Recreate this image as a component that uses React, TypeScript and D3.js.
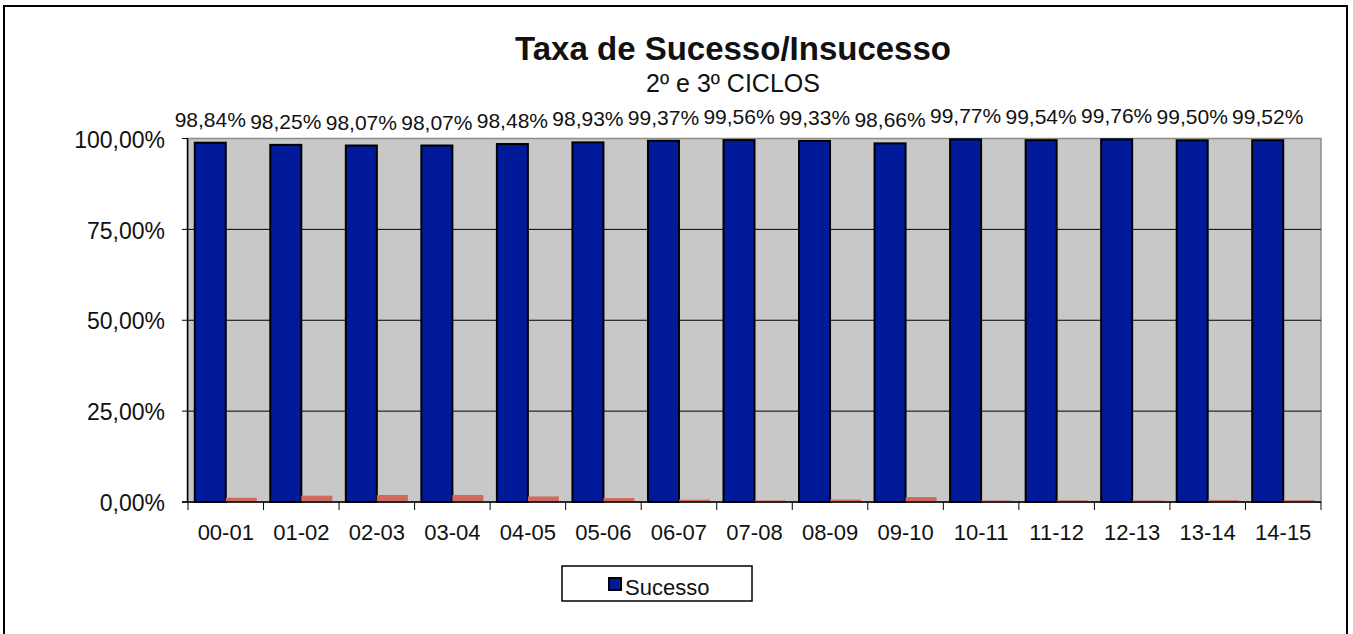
import React from "react";
import * as d3 from "d3";

const categories = ["00-01","01-02","02-03","03-04","04-05","05-06","06-07","07-08","08-09","09-10","10-11","11-12","12-13","13-14","14-15"];
const sucesso = [98.84,98.25,98.07,98.07,98.48,98.93,99.37,99.56,99.33,98.66,99.77,99.54,99.76,99.50,99.52];
const insucesso = [1.16,1.75,1.93,1.93,1.52,1.07,0.63,0.44,0.67,1.34,0.23,0.46,0.24,0.50,0.48];
const yTicks = [0,25,50,75,100];
const labels = ["98,84%","98,25%","98,07%","98,07%","98,48%","98,93%","99,37%","99,56%","99,33%","98,66%","99,77%","99,54%","99,76%","99,50%","99,52%"];

const W = 1353, H = 634;
const L = 188, R = 1321, T = 138.5, B = 502;
const FONT = "'Liberation Sans', Arial, sans-serif";

export default function App() {
  const x = d3.scaleBand<string>().domain(categories).range([L, R]).paddingInner(0).paddingOuter(0);
  const xs = d3.scaleBand<string>().domain(["s","i"]).range([0, x.bandwidth()]).paddingInner(0).paddingOuter(0.218);
  const y = d3.scaleLinear().domain([0,100]).range([B, T]);
  const fmt = (v:number)=> v.toFixed(2).replace(".", ",") + "%";
  return (
    <svg width={W} height={H} style={{position:"absolute", left:0, top:0}} fontFamily={FONT}>
      <rect x={0} y={0} width={W} height={H} fill="#fff"/>
      <rect x={4} y={6} width={1343} height={700} fill="none" stroke="#000" strokeWidth={2}/>
      <text x={733} y={60} textAnchor="middle" fontSize={33} fontWeight="bold" fill="#111">Taxa de Sucesso/Insucesso</text>
      <text x={733} y={92} textAnchor="middle" fontSize={25} fill="#111">2º e 3º CICLOS</text>
      {/* plot area */}
      <rect x={L} y={T} width={R-L} height={B-T} fill="#C8C8C8" stroke="#8c8c8c" strokeWidth={1.5}/>
      {yTicks.filter(t=>t>0 && t<100).map(t=>(
        <line key={t} x1={L} x2={R} y1={y(t)} y2={y(t)} stroke="#000" strokeWidth={1}/>
      ))}
      {/* bars */}
      {categories.map((c,i)=>(
        <g key={c}>
          <rect x={x(c)!+xs("s")!} y={y(sucesso[i])} width={xs.bandwidth()} height={B - y(sucesso[i])} fill="#001A9A" stroke="#000" strokeWidth={2}/>
          <rect x={x(c)!+xs("i")!} y={Math.min(y(insucesso[i]), B-1.5)} width={xs.bandwidth()} height={Math.max(B - y(insucesso[i]), 1.5)} fill="#D2695D"/>
          <text x={x(c)!+xs("s")!+xs.bandwidth()/2} y={y(sucesso[i]) - 16} textAnchor="middle" fontSize={21} fill="#111">{labels[i]}</text>
        </g>
      ))}
      {/* axes */}
      <line x1={L-0.5} x2={L-0.5} y1={T} y2={B} stroke="#000" strokeWidth={1.5}/>
      <line x1={L-6} x2={R} y1={B} y2={B} stroke="#000" strokeWidth={1.5}/>
      {yTicks.map(t=>(
        <g key={t}>
          <line x1={L-6} x2={L} y1={y(t)} y2={y(t)} stroke="#000" strokeWidth={1}/>
          <text x={165} y={y(t)} dy="0.4em" textAnchor="end" fontSize={23} fill="#111">{fmt(t)}</text>
        </g>
      ))}
      {[...categories.map(c=>x(c)!), R].map((px,i)=>(
        <line key={i} x1={px} x2={px} y1={B} y2={B+8} stroke="#000" strokeWidth={1}/>
      ))}
      {categories.map(c=>(
        <text key={c} x={x(c)!+x.bandwidth()/2} y={540} textAnchor="middle" fontSize={22} fill="#111">{c}</text>
      ))}
      {/* legend */}
      <rect x={562} y={566} width={190} height={35} fill="#fff" stroke="#000" strokeWidth={1.5}/>
      <rect x={609} y={578} width={12} height={12} fill="#001A9A" stroke="#000" strokeWidth={2}/>
      <text x={625} y={595} fontSize={22} fill="#111">Sucesso</text>
    </svg>
  );
}
